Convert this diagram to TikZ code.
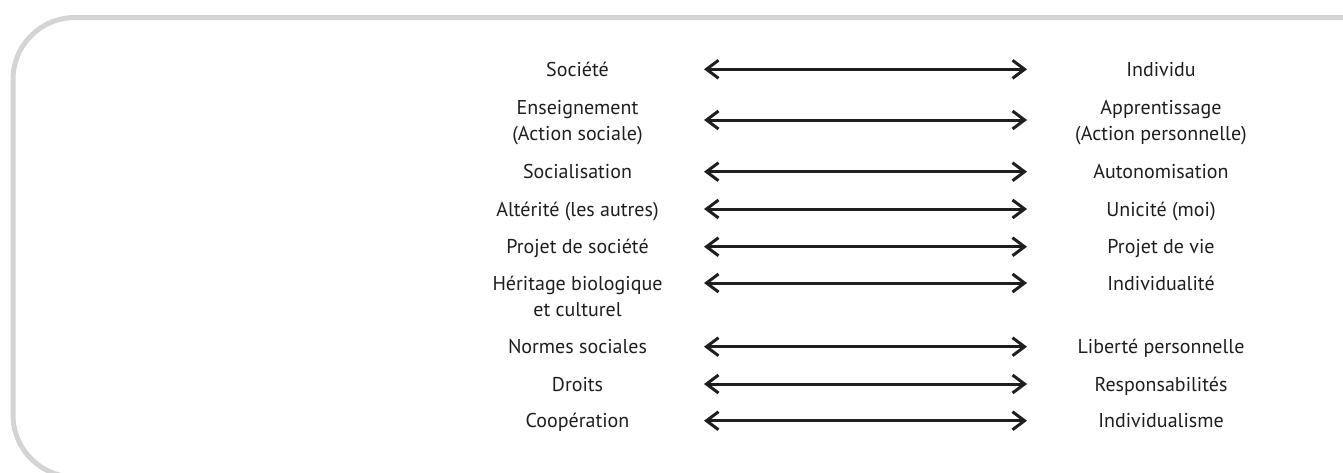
\documentclass[tikz,border=0pt]{standalone}
\usepackage{fontspec}
\setmainfont{PT Sans}
\usetikzlibrary{arrows.meta}
\definecolor{framegray}{HTML}{D4D4D6}
\definecolor{inkblack}{HTML}{1E1E1E}
\tikzset{
  lbl/.style={font=\fontsize{20}{26}\selectfont, text=inkblack, inner sep=0pt, align=center, anchor=base},
  pairarrow/.style={draw=inkblack, line width=3pt,
    {Straight Barb[length=12pt,width=18pt,line width=3pt]}-{Straight Barb[length=12pt,width=18pt,line width=3pt]}},
  frame/.style={draw=framegray, line width=5pt, rounded corners=62pt}
}
\begin{document}
\begin{tikzpicture}[x=1pt,y=-1pt]
\useasboundingbox (0,0) rectangle (1343,472);
\draw[frame] (1400,17.5) -- (13,17.5) -- (13,477) -- (1400,477);
% rows: arrow y positions
\foreach \n/\y in {1/69.3,2/120,3/171.7,4/209,5/246.7,6/283,7/346.7,8/384,9/420.7}{
  \coordinate (la\n) at (704,\y);
  \coordinate (ra\n) at (1027,\y);
}
\node[lbl] (L1) at (577.5,76.3) {Société};
\node[lbl] (R1) at (1161,76.3) {Individu};
\node[lbl] (L2) at (577.5,140) {Enseignement\\(Action sociale)};
\node[lbl] (R2) at (1161,140) {Apprentissage\\(Action personnelle)};
\node[lbl] (L3) at (577.5,178.7) {Socialisation};
\node[lbl] (R3) at (1161,178.7) {Autonomisation};
\node[lbl] (L4) at (577.5,216) {Altérité (les autres)};
\node[lbl] (R4) at (1161,216) {Unicité (moi)};
\node[lbl] (L5) at (577.5,253.7) {Projet de société};
\node[lbl] (R5) at (1161,253.7) {Projet de vie};
\node[lbl] (L6) at (577.5,316) {Héritage biologique\\et culturel};
\node[lbl] (R6) at (1161,290) {Individualité};
\node[lbl] (L7) at (577.5,353.7) {Normes sociales};
\node[lbl] (R7) at (1161,353.7) {Liberté personnelle};
\node[lbl] (L8) at (577.5,391) {Droits};
\node[lbl] (R8) at (1161,391) {Responsabilités};
\node[lbl] (L9) at (577.5,427.7) {Coopération};
\node[lbl] (R9) at (1161,427.7) {Individualisme};
\foreach \n in {1,...,9}{
  \draw[pairarrow] (la\n) -- (ra\n);
}
\end{tikzpicture}
\end{document}
